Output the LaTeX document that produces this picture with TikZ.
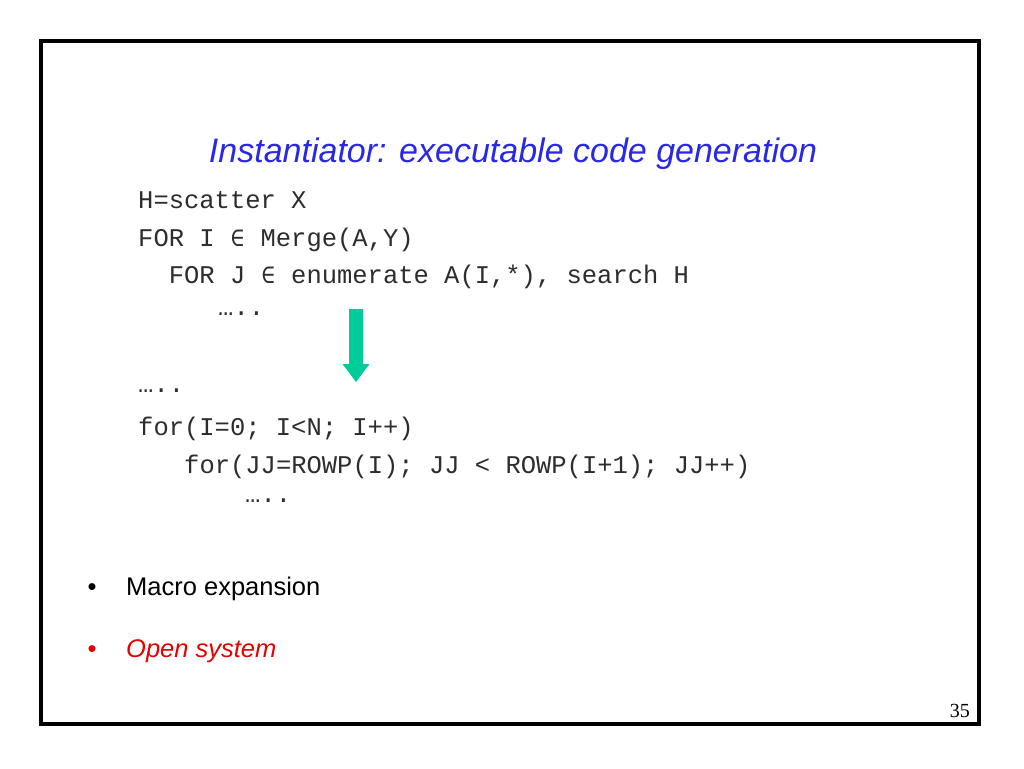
\documentclass[tikz,border=0pt]{standalone}
\usepackage{fontspec}
\setmainfont{Liberation Sans}
\newfontfamily\codefont{Liberation Mono}
\newfontfamily\symmono{DejaVu Sans Mono}
\newfontfamily\numfont{Liberation Serif}
\usetikzlibrary{calc}
\definecolor{titleblue}{RGB}{40,40,230}
\definecolor{arrowgreen}{RGB}{0,204,153}
\definecolor{bulletred}{RGB}{230,0,0}
\definecolor{codegray}{RGB}{45,45,45}
\newcommand\elemsym{\makebox[15.3pt]{\symmono\fontsize{23}{23}\selectfont ∈}}
\tikzset{
  codeline/.style={anchor=base west, inner sep=0pt, text=codegray, font=\codefont\fontsize{25.5}{25.5}\selectfont},
  slidetitle/.style={anchor=base, inner sep=0pt, text=titleblue, font=\itshape\fontsize{34}{34}\selectfont},
  bullettext/.style={anchor=base west, inner sep=0pt, font=\fontsize{25.5}{25.5}\selectfont},
  bulletdot/.style={anchor=base, inner sep=0pt, font=\fontsize{25.5}{25.5}\selectfont},
  pagenum/.style={anchor=base east, inner sep=0pt, font=\numfont\fontsize{20}{20}\selectfont},
  frame/.style={draw=black, line width=3.3pt},
}
\begin{document}
\begin{tikzpicture}[x=1pt,y=-1pt]
\useasboundingbox (0,0) rectangle (1024,768);
\fill[white] (0,0) rectangle (1024,768);
\draw[frame] (41,41) rectangle (979,724);
\node[slidetitle] (title) at (513,162) {Instantiator: executable code generation};
\node[codeline] (c1) at (138,208) {H=scatter X};
\node[codeline] (c2) at (138,246) {FOR I \elemsym{} Merge(A,Y)};
\node[codeline] (c3) at (168.6,283) {FOR J \elemsym{} enumerate A(I,*), search H};
\node[codeline] (c4) at (218,315) {…..};
\node[codeline] (c5) at (138,392) {…..};
\node[codeline] (c6) at (138,435) {for(I=0; I<N; I++)};
\node[codeline] (c7) at (184,473) {for(JJ=ROWP(I); JJ < ROWP(I+1); JJ++)};
\node[codeline] (c8) at (245,502) {…..};
\coordinate (atop) at (356,309);
\coordinate (atip) at (356,382);
\fill[arrowgreen] ($(atop)+(-7,0)$) -- ($(atop)+(7,0)$) -- ($(atip)+(7,-18)$) -- ($(atip)+(13.5,-18)$) -- (atip) -- ($(atip)+(-13.5,-18)$) -- ($(atip)+(-7,-18)$) -- cycle;
\node[bulletdot] (b1) at (92,595) {•};
\node[bullettext] (t1) at (126,595) {Macro expansion};
\node[bulletdot, text=bulletred] (b2) at (92,657) {•};
\node[bullettext, text=bulletred, font=\itshape\fontsize{25.5}{25.5}\selectfont] (t2) at (126,657) {Open system};
\node[pagenum] (pg) at (970,717) {35};
\end{tikzpicture}
\end{document}
